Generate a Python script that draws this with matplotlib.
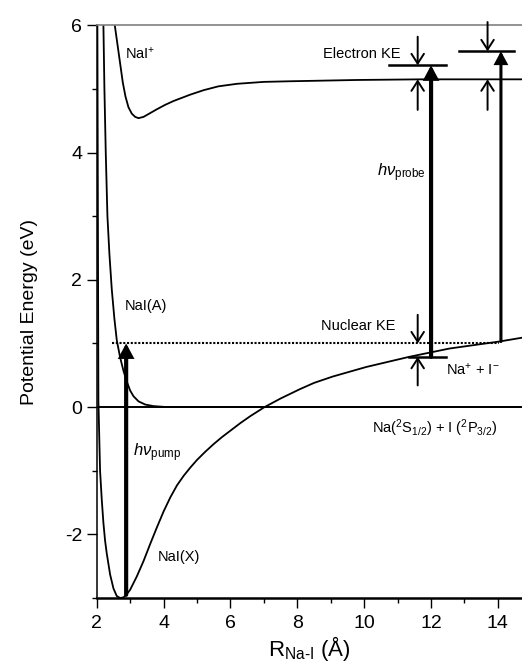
import matplotlib
matplotlib.use("Agg")
from matplotlib import pyplot as plt

plt.rcParams['font.family'] = ['Liberation Sans', 'DejaVu Sans']
plt.rcParams['mathtext.fontset'] = 'custom'
plt.rcParams['mathtext.rm'] = 'Liberation Sans'
plt.rcParams['mathtext.it'] = 'Liberation Sans:italic'
plt.rcParams['mathtext.bf'] = 'Liberation Sans:bold'
plt.rcParams['axes.unicode_minus'] = False

# potential curves (R in angstrom, E in eV)
r_x = [2.02, 2.04, 2.05, 2.1, 2.15, 2.2, 2.25, 2.3, 2.4, 2.5, 2.6, 2.7, 2.8, 2.9, 3.0,
       3.2, 3.4, 3.6, 3.8, 4.0, 4.2, 4.4, 4.6, 4.8, 5.0, 5.25, 5.5, 5.75, 6.0, 6.3,
       6.6, 7.02, 7.5, 8.07, 8.5, 9.06, 10.06, 11.35, 12.55, 14.04, 14.72]
e_x = [6.0, 2.0, 0.1, -1.0, -1.45, -1.82, -2.1, -2.3, -2.63, -2.85, -2.97, -3.0, -2.99,
       -2.94, -2.87, -2.66, -2.42, -2.15, -1.89, -1.64, -1.42, -1.23, -1.08, -0.95,
       -0.83, -0.70, -0.58, -0.47, -0.37, -0.25, -0.14, 0.0, 0.135, 0.28, 0.38, 0.48,
       0.63, 0.79, 0.92, 1.03, 1.09]

r_a = [2.2, 2.23, 2.27, 2.32, 2.38, 2.45, 2.53, 2.6, 2.7, 2.8, 2.9, 3.0, 3.1, 3.25,
       3.45, 3.7, 4.1, 14.72]
e_a = [6.0, 5.0, 4.0, 3.0, 2.4, 1.85, 1.38, 1.05, 0.78, 0.57, 0.4, 0.26, 0.17, 0.09,
       0.04, 0.015, 0.0, 0.0]

r_ion = [2.54, 2.62, 2.7, 2.78, 2.86, 2.95, 3.05, 3.15, 3.25, 3.4, 3.6, 3.8, 4.05,
         4.3, 4.55, 4.8, 5.2, 5.64, 6.2, 7.0, 7.8, 8.8, 9.8, 11.7, 14.72]
e_ion = [6.0, 5.7, 5.4, 5.1, 4.88, 4.71, 4.61, 4.56, 4.54, 4.56, 4.62, 4.68, 4.75,
         4.81, 4.86, 4.91, 4.98, 5.04, 5.08, 5.11, 5.12, 5.13, 5.14, 5.15, 5.15]

# excitation scheme
pump_r, pump_lo, pump_hi = 2.88, -2.95, 1.0
probe_r = [12.0, 14.09]
probe_lo = [0.79, 1.03]
probe_hi = [5.37, 5.59]
ke_r = [11.6, 13.69]
ion_level = 5.15
dotted_r = [2.45, 14.04]

fig = plt.figure(figsize=(5.22, 6.66), dpi=100)
ax = fig.add_axes([0.1853, 0.1021, 0.8147, 0.860])

ax.axhline(0, color='k', lw=1.4)
ax.plot(r_x, e_x, color='k', lw=1.3)
ax.plot(r_a, e_a, color='k', lw=1.3)
ax.plot(r_ion, e_ion, color='k', lw=1.3)
ax.plot(dotted_r, [pump_hi, pump_hi], color='k', lw=1.5, linestyle=(0, (1, 0.8)))

thick = dict(arrowstyle='-|>,head_width=0.35,head_length=0.65', color='k',
             shrinkA=0, shrinkB=0, mutation_scale=10, joinstyle='miter')
thin = dict(arrowstyle='->,head_width=0.45,head_length=0.7', color='k',
            lw=1.4, shrinkA=0, shrinkB=0, mutation_scale=10)

ax.annotate('', xy=(pump_r, pump_hi), xytext=(pump_r, pump_lo),
            arrowprops=dict(thick, lw=3.0))
ax.annotate('', xy=(probe_r[0], probe_hi[0]), xytext=(probe_r[0], probe_lo[0]),
            arrowprops=dict(thick, lw=3.0))
ax.annotate('', xy=(probe_r[1], probe_hi[1]), xytext=(probe_r[1], probe_lo[1]),
            arrowprops=dict(thick, lw=2.2))

# level markers at the probe arrows
ax.plot([10.75, 12.45], [probe_hi[0], probe_hi[0]], color='k', lw=1.8)
ax.plot([11.35, 12.45], [probe_lo[0], probe_lo[0]], color='k', lw=1.8)
ax.plot([12.85, 14.49], [probe_hi[1], probe_hi[1]], color='k', lw=1.8)

# kinetic energy arrows
ax.annotate('', xy=(ke_r[0], probe_hi[0]), xytext=(ke_r[0], 5.82), arrowprops=thin)
ax.annotate('', xy=(ke_r[0], ion_level), xytext=(ke_r[0], 4.67), arrowprops=thin)
ax.annotate('', xy=(ke_r[1], probe_hi[1]), xytext=(ke_r[1], 6.05), arrowprops=thin,
            annotation_clip=False)
ax.annotate('', xy=(ke_r[1], ion_level), xytext=(ke_r[1], 4.67), arrowprops=thin)
ax.annotate('', xy=(ke_r[0], pump_hi), xytext=(ke_r[0], 1.45), arrowprops=thin)
ax.annotate('', xy=(ke_r[0], probe_lo[0]), xytext=(ke_r[0], 0.34), arrowprops=thin)

fs = 10.5
ax.text(2.84, 5.55, r'NaI$^{+}$', fontsize=fs, va='center')
ax.text(8.76, 5.55, 'Electron KE', fontsize=fs, va='center')
ax.text(10.37, 3.68, r'$h\nu_{\mathrm{probe}}$', fontsize=12, va='center')
ax.text(2.85, 1.59, 'NaI(A)', fontsize=fs, va='center')
ax.text(8.72, 1.28, 'Nuclear KE', fontsize=fs, va='center')
ax.text(12.45, 0.59, r'Na$^{+}$ + I$^{-}$', fontsize=fs, va='center')
ax.text(10.24, -0.33, r'Na($^{2}$S$_{1/2}$) + I ($^{2}$P$_{3/2}$)', fontsize=fs,
        va='center')
ax.text(3.09, -0.72, r'$h\nu_{\mathrm{pump}}$', fontsize=12, va='center')
ax.text(3.84, -2.35, 'NaI(X)', fontsize=fs, va='center')

ax.set_xlim(2, 14.72)
ax.set_ylim(-3, 6)
ax.set_xticks([2, 4, 6, 8, 10, 12, 14])
ax.set_xticks(range(3, 15, 2), minor=True)
ax.set_yticks([-2, 0, 2, 4, 6])
ax.set_yticks([-3, -1, 1, 3, 5], minor=True)
ax.tick_params(which='both', direction='out', width=1, labelsize=14)
ax.tick_params(which='major', length=7)
ax.tick_params(which='minor', length=3.6)
ax.tick_params(axis='x', pad=5)
ax.tick_params(axis='y', pad=3.5)

ax.spines['right'].set_visible(False)
ax.spines['top'].set_color('#808080')
ax.spines['top'].set_linewidth(1.2)
ax.spines['bottom'].set_linewidth(1.8)
ax.spines['left'].set_linewidth(1.1)

ax.set_xlabel(r'R$_{\mathrm{Na}\text{-}\mathrm{I}}$ (Å)', fontsize=16, labelpad=2)
ax.set_ylabel('Potential Energy (eV)', fontsize=14, labelpad=19)

fig.savefig('out.png', dpi=100)
